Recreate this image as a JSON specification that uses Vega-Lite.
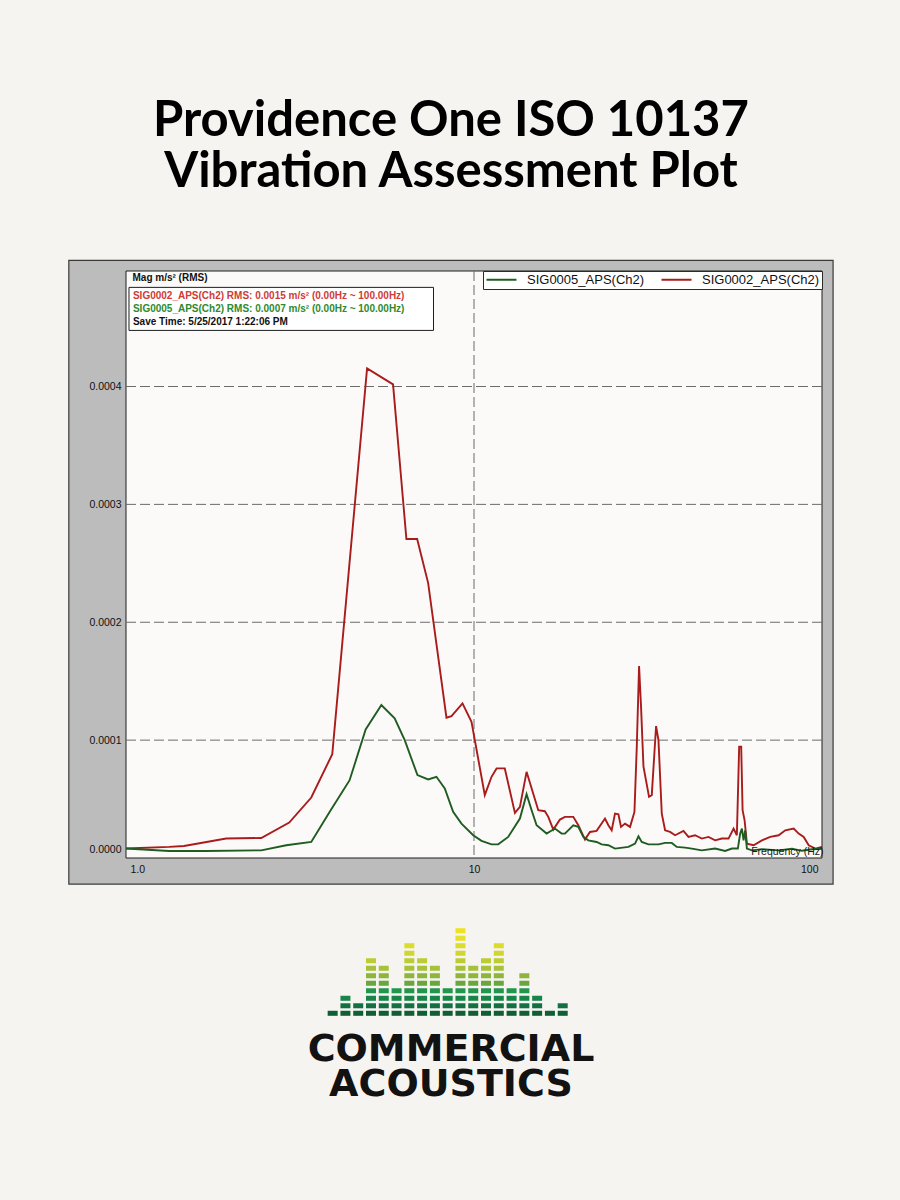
{
  "$schema": "https://vega.github.io/schema/vega-lite/v6.json",
  "background": "#f6f4f1",
  "padding": {"top": 96, "left": 68, "right": 68, "bottom": 100},
  "title": {
    "text": ["Providence One ISO 10137", "Vibration Assessment Plot"],
    "anchor": "middle",
    "font": "Lato",
    "fontSize": 49,
    "fontWeight": "bold",
    "lineHeight": 51,
    "color": "#000000",
    "offset": 63
  },
  "config": {"view": {"stroke": null}, "font": "Liberation Sans"},
  "spacing": 42,
  "resolve": {"scale": {"color": "independent"}, "legend": {"color": "independent"}},
  "datasets": {
    "curves": [
      {"freq": 1.0, "mag": 0.0000080, "signal": "SIG0002_APS(Ch2)"},
      {"freq": 1.33, "mag": 0.0000094, "signal": "SIG0002_APS(Ch2)"},
      {"freq": 1.468, "mag": 0.0000102, "signal": "SIG0002_APS(Ch2)"},
      {"freq": 1.94, "mag": 0.0000165, "signal": "SIG0002_APS(Ch2)"},
      {"freq": 2.447, "mag": 0.0000170, "signal": "SIG0002_APS(Ch2)"},
      {"freq": 2.945, "mag": 0.0000301, "signal": "SIG0002_APS(Ch2)"},
      {"freq": 3.407, "mag": 0.0000513, "signal": "SIG0002_APS(Ch2)"},
      {"freq": 3.915, "mag": 0.0000881, "signal": "SIG0002_APS(Ch2)"},
      {"freq": 4.929, "mag": 0.0004154, "signal": "SIG0002_APS(Ch2)"},
      {"freq": 5.853, "mag": 0.0004018, "signal": "SIG0002_APS(Ch2)"},
      {"freq": 6.394, "mag": 0.0002706, "signal": "SIG0002_APS(Ch2)"},
      {"freq": 6.865, "mag": 0.0002706, "signal": "SIG0002_APS(Ch2)"},
      {"freq": 7.384, "mag": 0.0002332, "signal": "SIG0002_APS(Ch2)"},
      {"freq": 8.334, "mag": 0.0001190, "signal": "SIG0002_APS(Ch2)"},
      {"freq": 8.615, "mag": 0.0001204, "signal": "SIG0002_APS(Ch2)"},
      {"freq": 9.267, "mag": 0.0001312, "signal": "SIG0002_APS(Ch2)"},
      {"freq": 9.836, "mag": 0.0001156, "signal": "SIG0002_APS(Ch2)"},
      {"freq": 10.74, "mag": 0.0000533, "signal": "SIG0002_APS(Ch2)"},
      {"freq": 11.23, "mag": 0.0000689, "signal": "SIG0002_APS(Ch2)"},
      {"freq": 11.61, "mag": 0.0000760, "signal": "SIG0002_APS(Ch2)"},
      {"freq": 12.26, "mag": 0.0000760, "signal": "SIG0002_APS(Ch2)"},
      {"freq": 13.11, "mag": 0.0000383, "signal": "SIG0002_APS(Ch2)"},
      {"freq": 13.55, "mag": 0.0000434, "signal": "SIG0002_APS(Ch2)"},
      {"freq": 14.16, "mag": 0.0000731, "signal": "SIG0002_APS(Ch2)"},
      {"freq": 15.30, "mag": 0.0000405, "signal": "SIG0002_APS(Ch2)"},
      {"freq": 15.98, "mag": 0.0000397, "signal": "SIG0002_APS(Ch2)"},
      {"freq": 16.35, "mag": 0.0000349, "signal": "SIG0002_APS(Ch2)"},
      {"freq": 16.90, "mag": 0.0000241, "signal": "SIG0002_APS(Ch2)"},
      {"freq": 17.66, "mag": 0.0000326, "signal": "SIG0002_APS(Ch2)"},
      {"freq": 18.25, "mag": 0.0000349, "signal": "SIG0002_APS(Ch2)"},
      {"freq": 19.29, "mag": 0.0000349, "signal": "SIG0002_APS(Ch2)"},
      {"freq": 19.94, "mag": 0.0000278, "signal": "SIG0002_APS(Ch2)"},
      {"freq": 20.84, "mag": 0.0000156, "signal": "SIG0002_APS(Ch2)"},
      {"freq": 21.54, "mag": 0.0000221, "signal": "SIG0002_APS(Ch2)"},
      {"freq": 22.51, "mag": 0.0000230, "signal": "SIG0002_APS(Ch2)"},
      {"freq": 23.79, "mag": 0.0000335, "signal": "SIG0002_APS(Ch2)"},
      {"freq": 24.33, "mag": 0.0000278, "signal": "SIG0002_APS(Ch2)"},
      {"freq": 24.87, "mag": 0.0000235, "signal": "SIG0002_APS(Ch2)"},
      {"freq": 25.42, "mag": 0.0000377, "signal": "SIG0002_APS(Ch2)"},
      {"freq": 26.00, "mag": 0.0000371, "signal": "SIG0002_APS(Ch2)"},
      {"freq": 26.45, "mag": 0.0000264, "signal": "SIG0002_APS(Ch2)"},
      {"freq": 27.16, "mag": 0.0000292, "signal": "SIG0002_APS(Ch2)"},
      {"freq": 28.08, "mag": 0.0000264, "signal": "SIG0002_APS(Ch2)"},
      {"freq": 28.91, "mag": 0.0000391, "signal": "SIG0002_APS(Ch2)"},
      {"freq": 29.36, "mag": 0.0000944, "signal": "SIG0002_APS(Ch2)"},
      {"freq": 29.81, "mag": 0.0001629, "signal": "SIG0002_APS(Ch2)"},
      {"freq": 30.20, "mag": 0.0001284, "signal": "SIG0002_APS(Ch2)"},
      {"freq": 30.69, "mag": 0.0000774, "signal": "SIG0002_APS(Ch2)"},
      {"freq": 31.84, "mag": 0.0000519, "signal": "SIG0002_APS(Ch2)"},
      {"freq": 32.42, "mag": 0.0000533, "signal": "SIG0002_APS(Ch2)"},
      {"freq": 33.36, "mag": 0.0001119, "signal": "SIG0002_APS(Ch2)"},
      {"freq": 33.89, "mag": 0.0001000, "signal": "SIG0002_APS(Ch2)"},
      {"freq": 34.64, "mag": 0.0000377, "signal": "SIG0002_APS(Ch2)"},
      {"freq": 35.41, "mag": 0.0000235, "signal": "SIG0002_APS(Ch2)"},
      {"freq": 36.60, "mag": 0.0000221, "signal": "SIG0002_APS(Ch2)"},
      {"freq": 37.83, "mag": 0.0000193, "signal": "SIG0002_APS(Ch2)"},
      {"freq": 39.99, "mag": 0.0000230, "signal": "SIG0002_APS(Ch2)"},
      {"freq": 41.34, "mag": 0.0000179, "signal": "SIG0002_APS(Ch2)"},
      {"freq": 43.18, "mag": 0.0000193, "signal": "SIG0002_APS(Ch2)"},
      {"freq": 45.14, "mag": 0.0000165, "signal": "SIG0002_APS(Ch2)"},
      {"freq": 47.19, "mag": 0.0000179, "signal": "SIG0002_APS(Ch2)"},
      {"freq": 49.31, "mag": 0.0000150, "signal": "SIG0002_APS(Ch2)"},
      {"freq": 51.54, "mag": 0.0000165, "signal": "SIG0002_APS(Ch2)"},
      {"freq": 53.88, "mag": 0.0000165, "signal": "SIG0002_APS(Ch2)"},
      {"freq": 55.70, "mag": 0.0000250, "signal": "SIG0002_APS(Ch2)"},
      {"freq": 56.93, "mag": 0.0000193, "signal": "SIG0002_APS(Ch2)"},
      {"freq": 57.81, "mag": 0.0000944, "signal": "SIG0002_APS(Ch2)"},
      {"freq": 58.59, "mag": 0.0000944, "signal": "SIG0002_APS(Ch2)"},
      {"freq": 59.13, "mag": 0.0000405, "signal": "SIG0002_APS(Ch2)"},
      {"freq": 59.92, "mag": 0.0000320, "signal": "SIG0002_APS(Ch2)"},
      {"freq": 60.84, "mag": 0.0000122, "signal": "SIG0002_APS(Ch2)"},
      {"freq": 63.62, "mag": 0.0000108, "signal": "SIG0002_APS(Ch2)"},
      {"freq": 67.20, "mag": 0.0000150, "signal": "SIG0002_APS(Ch2)"},
      {"freq": 71.00, "mag": 0.0000179, "signal": "SIG0002_APS(Ch2)"},
      {"freq": 75.07, "mag": 0.0000193, "signal": "SIG0002_APS(Ch2)"},
      {"freq": 78.43, "mag": 0.0000235, "signal": "SIG0002_APS(Ch2)"},
      {"freq": 82.93, "mag": 0.0000250, "signal": "SIG0002_APS(Ch2)"},
      {"freq": 85.70, "mag": 0.0000207, "signal": "SIG0002_APS(Ch2)"},
      {"freq": 88.59, "mag": 0.0000179, "signal": "SIG0002_APS(Ch2)"},
      {"freq": 91.58, "mag": 0.0000108, "signal": "SIG0002_APS(Ch2)"},
      {"freq": 95.65, "mag": 0.0000080, "signal": "SIG0002_APS(Ch2)"},
      {"freq": 100.0, "mag": 0.0000094, "signal": "SIG0002_APS(Ch2)"},

      {"freq": 1.0, "mag": 0.0000080, "signal": "SIG0005_APS(Ch2)"},
      {"freq": 1.33, "mag": 0.0000060, "signal": "SIG0005_APS(Ch2)"},
      {"freq": 1.699, "mag": 0.0000060, "signal": "SIG0005_APS(Ch2)"},
      {"freq": 2.447, "mag": 0.0000065, "signal": "SIG0005_APS(Ch2)"},
      {"freq": 2.887, "mag": 0.0000108, "signal": "SIG0005_APS(Ch2)"},
      {"freq": 3.407, "mag": 0.0000136, "signal": "SIG0005_APS(Ch2)"},
      {"freq": 3.846, "mag": 0.0000391, "signal": "SIG0005_APS(Ch2)"},
      {"freq": 4.391, "mag": 0.0000660, "signal": "SIG0005_APS(Ch2)"},
      {"freq": 4.883, "mag": 0.0001091, "signal": "SIG0005_APS(Ch2)"},
      {"freq": 5.418, "mag": 0.0001298, "signal": "SIG0005_APS(Ch2)"},
      {"freq": 5.916, "mag": 0.0001185, "signal": "SIG0005_APS(Ch2)"},
      {"freq": 6.323, "mag": 0.0001000, "signal": "SIG0005_APS(Ch2)"},
      {"freq": 6.879, "mag": 0.0000703, "signal": "SIG0005_APS(Ch2)"},
      {"freq": 7.384, "mag": 0.0000666, "signal": "SIG0005_APS(Ch2)"},
      {"freq": 7.799, "mag": 0.0000689, "signal": "SIG0005_APS(Ch2)"},
      {"freq": 8.241, "mag": 0.0000590, "signal": "SIG0005_APS(Ch2)"},
      {"freq": 8.711, "mag": 0.0000391, "signal": "SIG0005_APS(Ch2)"},
      {"freq": 9.205, "mag": 0.0000292, "signal": "SIG0005_APS(Ch2)"},
      {"freq": 9.947, "mag": 0.0000193, "signal": "SIG0005_APS(Ch2)"},
      {"freq": 10.51, "mag": 0.0000145, "signal": "SIG0005_APS(Ch2)"},
      {"freq": 11.23, "mag": 0.0000116, "signal": "SIG0005_APS(Ch2)"},
      {"freq": 11.74, "mag": 0.0000116, "signal": "SIG0005_APS(Ch2)"},
      {"freq": 12.54, "mag": 0.0000179, "signal": "SIG0005_APS(Ch2)"},
      {"freq": 13.55, "mag": 0.0000335, "signal": "SIG0005_APS(Ch2)"},
      {"freq": 14.16, "mag": 0.0000541, "signal": "SIG0005_APS(Ch2)"},
      {"freq": 14.64, "mag": 0.0000405, "signal": "SIG0005_APS(Ch2)"},
      {"freq": 15.13, "mag": 0.0000278, "signal": "SIG0005_APS(Ch2)"},
      {"freq": 16.17, "mag": 0.0000207, "signal": "SIG0005_APS(Ch2)"},
      {"freq": 17.08, "mag": 0.0000250, "signal": "SIG0005_APS(Ch2)"},
      {"freq": 17.86, "mag": 0.0000207, "signal": "SIG0005_APS(Ch2)"},
      {"freq": 18.25, "mag": 0.0000207, "signal": "SIG0005_APS(Ch2)"},
      {"freq": 19.29, "mag": 0.0000278, "signal": "SIG0005_APS(Ch2)"},
      {"freq": 19.94, "mag": 0.0000264, "signal": "SIG0005_APS(Ch2)"},
      {"freq": 20.62, "mag": 0.0000179, "signal": "SIG0005_APS(Ch2)"},
      {"freq": 21.31, "mag": 0.0000150, "signal": "SIG0005_APS(Ch2)"},
      {"freq": 22.51, "mag": 0.0000136, "signal": "SIG0005_APS(Ch2)"},
      {"freq": 23.27, "mag": 0.0000116, "signal": "SIG0005_APS(Ch2)"},
      {"freq": 24.33, "mag": 0.0000108, "signal": "SIG0005_APS(Ch2)"},
      {"freq": 25.42, "mag": 0.0000080, "signal": "SIG0005_APS(Ch2)"},
      {"freq": 27.78, "mag": 0.0000094, "signal": "SIG0005_APS(Ch2)"},
      {"freq": 29.03, "mag": 0.0000122, "signal": "SIG0005_APS(Ch2)"},
      {"freq": 29.69, "mag": 0.0000184, "signal": "SIG0005_APS(Ch2)"},
      {"freq": 30.34, "mag": 0.0000136, "signal": "SIG0005_APS(Ch2)"},
      {"freq": 31.72, "mag": 0.0000116, "signal": "SIG0005_APS(Ch2)"},
      {"freq": 33.89, "mag": 0.0000116, "signal": "SIG0005_APS(Ch2)"},
      {"freq": 35.41, "mag": 0.0000128, "signal": "SIG0005_APS(Ch2)"},
      {"freq": 37.01, "mag": 0.0000128, "signal": "SIG0005_APS(Ch2)"},
      {"freq": 38.25, "mag": 0.0000094, "signal": "SIG0005_APS(Ch2)"},
      {"freq": 40.42, "mag": 0.0000088, "signal": "SIG0005_APS(Ch2)"},
      {"freq": 42.26, "mag": 0.0000080, "signal": "SIG0005_APS(Ch2)"},
      {"freq": 45.14, "mag": 0.0000065, "signal": "SIG0005_APS(Ch2)"},
      {"freq": 49.31, "mag": 0.0000080, "signal": "SIG0005_APS(Ch2)"},
      {"freq": 52.68, "mag": 0.0000060, "signal": "SIG0005_APS(Ch2)"},
      {"freq": 55.08, "mag": 0.0000080, "signal": "SIG0005_APS(Ch2)"},
      {"freq": 57.31, "mag": 0.0000080, "signal": "SIG0005_APS(Ch2)"},
      {"freq": 58.19, "mag": 0.0000207, "signal": "SIG0005_APS(Ch2)"},
      {"freq": 58.86, "mag": 0.0000250, "signal": "SIG0005_APS(Ch2)"},
      {"freq": 59.52, "mag": 0.0000150, "signal": "SIG0005_APS(Ch2)"},
      {"freq": 60.15, "mag": 0.0000235, "signal": "SIG0005_APS(Ch2)"},
      {"freq": 60.84, "mag": 0.0000080, "signal": "SIG0005_APS(Ch2)"},
      {"freq": 62.91, "mag": 0.0000065, "signal": "SIG0005_APS(Ch2)"},
      {"freq": 67.20, "mag": 0.0000074, "signal": "SIG0005_APS(Ch2)"},
      {"freq": 75.07, "mag": 0.0000065, "signal": "SIG0005_APS(Ch2)"},
      {"freq": 82.00, "mag": 0.0000078, "signal": "SIG0005_APS(Ch2)"},
      {"freq": 87.60, "mag": 0.0000061, "signal": "SIG0005_APS(Ch2)"},
      {"freq": 93.58, "mag": 0.0000074, "signal": "SIG0005_APS(Ch2)"},
      {"freq": 100.0, "mag": 0.0000078, "signal": "SIG0005_APS(Ch2)"}
    ],
    "gridLevels": [
      {"level": 0.0001}, {"level": 0.0002}, {"level": 0.0003}, {"level": 0.0004}
    ],
    "logo": [
      {"column": 1, "levels": [1]},
      {"column": 2, "levels": [1, 2, 3]},
      {"column": 3, "levels": [1, 2]},
      {"column": 4, "levels": [1, 2, 3, 4, 5, 6, 7, 8]},
      {"column": 5, "levels": [1, 2, 3, 4, 5, 6, 7]},
      {"column": 6, "levels": [1, 2, 3, 4]},
      {"column": 7, "levels": [1, 2, 3, 4, 5, 6, 7, 8, 9, 10]},
      {"column": 8, "levels": [1, 2, 3, 4, 5, 6, 7, 8]},
      {"column": 9, "levels": [1, 2, 3, 4, 5, 6, 7]},
      {"column": 10, "levels": [1, 2, 3, 4]},
      {"column": 11, "levels": [1, 2, 3, 4, 5, 6, 7, 8, 9, 10, 11, 12]},
      {"column": 12, "levels": [1, 2, 3, 4, 5, 6, 7]},
      {"column": 13, "levels": [1, 2, 3, 4, 5, 6, 7, 8]},
      {"column": 14, "levels": [1, 2, 3, 4, 5, 6, 7, 8, 9, 10]},
      {"column": 15, "levels": [1, 2, 3, 4]},
      {"column": 16, "levels": [1, 2, 3, 4, 5, 6]},
      {"column": 17, "levels": [1, 2, 3]},
      {"column": 18, "levels": [1]},
      {"column": 19, "levels": [1, 2]}
    ]
  },
  "vconcat": [
    {
      "width": 696,
      "height": 587,
      "layer": [
        {
          "data": {"values": [{}]},
          "mark": {"type": "rect", "fill": "#bcbcbc", "stroke": "#3a3a3a", "strokeWidth": 1.2, "clip": false},
          "encoding": {
            "x": {"datum": 0.685, "type": "quantitative", "scale": {"type": "log", "domain": [1, 100], "nice": false}},
            "x2": {"datum": 107.6},
            "y": {"datum": -0.0000221, "type": "quantitative", "scale": {"domain": [0, 0.000498], "nice": false, "zero": false}},
            "y2": {"datum": 0.000507}
          }
        },
        {
          "data": {"values": [{}]},
          "mark": {"type": "rect", "fill": "#fbfaf8", "stroke": "#1e1e1e", "strokeWidth": 1},
          "encoding": {
            "x": {"datum": 1, "type": "quantitative", "scale": {"type": "log", "domain": [1, 100], "nice": false}},
            "x2": {"datum": 100},
            "y": {"datum": 0, "type": "quantitative", "scale": {"domain": [0, 0.000498], "nice": false, "zero": false}},
            "y2": {"datum": 0.000498}
          }
        },
        {
          "data": {"name": "gridLevels"},
          "mark": {"type": "rule", "stroke": "#6b6b6b", "strokeWidth": 1, "strokeDash": [10, 4]},
          "encoding": {
            "y": {"field": "level", "type": "quantitative", "scale": {"domain": [0, 0.000498], "nice": false, "zero": false}}
          }
        },
        {
          "data": {"values": [{}]},
          "mark": {"type": "rule", "stroke": "#6b6b6b", "strokeWidth": 1, "strokeDash": [10, 4]},
          "encoding": {
            "x": {"datum": 10, "type": "quantitative", "scale": {"type": "log", "domain": [1, 100], "nice": false}}
          }
        },
        {
          "data": {"name": "curves"},
          "mark": {"type": "line", "strokeWidth": 1.9, "clip": true},
          "encoding": {
            "x": {
              "field": "freq",
              "type": "quantitative",
              "scale": {"type": "log", "domain": [1, 100], "nice": false},
              "axis": {
                "values": [1, 10, 100],
                "labelExpr": "datum.value == 1 ? '1.0' : format(datum.value, 'd')",
                "labelFont": "Liberation Sans",
                "labelFontSize": 10.5,
                "labelColor": "#111111",
                "labelPadding": 6,
                "labelFlush": true,
                "labelFlushOffset": -4,
                "ticks": false,
                "domain": false,
                "grid": false,
                "title": "Frequency (Hz)",
                "titleX": 697,
                "titleY": -2,
                "titleAlign": "right",
                "titleBaseline": "bottom",
                "titleFont": "Liberation Sans",
                "titleFontSize": 10.5,
                "titleFontWeight": "normal",
                "titleColor": "#1a1a1a",
                "zindex": 1
              }
            },
            "y": {
              "field": "mag",
              "type": "quantitative",
              "scale": {"domain": [0, 0.000498], "nice": false, "zero": false},
              "axis": {
                "values": [0, 0.0001, 0.0002, 0.0003, 0.0004],
                "format": ".4f",
                "labelFont": "Liberation Sans",
                "labelFontSize": 10.5,
                "labelColor": "#111111",
                "labelPadding": 5,
                "labelFlush": true,
                "labelFlushOffset": -4,
                "ticks": false,
                "domain": false,
                "grid": false,
                "title": "Mag m/s² (RMS)",
                "titleAngle": 0,
                "titleX": 6,
                "titleY": 6,
                "titleAlign": "left",
                "titleBaseline": "middle",
                "titleFont": "Liberation Sans",
                "titleFontSize": 10,
                "titleFontWeight": "bold",
                "titleColor": "#111111",
                "zindex": 1
              }
            },
            "color": {
              "field": "signal",
              "type": "nominal",
              "scale": {"domain": ["SIG0005_APS(Ch2)", "SIG0002_APS(Ch2)"], "range": ["#1f5c22", "#a81c1c"]},
              "legend": {
                "orient": "top-right",
                "offset": 0,
                "direction": "horizontal",
                "title": null,
                "fillColor": "#ffffff",
                "strokeColor": "#2a2a2a",
                "padding": 2,
                "symbolType": "M-1,0H5",
                "symbolSize": 100,
                "symbolStrokeWidth": 2,
                "labelOffset": 29,
                "labelFont": "Liberation Sans",
                "labelFontSize": 13,
                "labelColor": "#111111",
                "columnPadding": 12,
                "labelLimit": 200
              }
            }
          }
        },
        {
          "data": {"values": [{}]},
          "mark": {"type": "rect", "fill": "#ffffff", "stroke": "#1e1e1e", "strokeWidth": 1},
          "encoding": {
            "x": {"datum": 1.02, "type": "quantitative", "scale": {"type": "log", "domain": [1, 100], "nice": false}},
            "x2": {"datum": 7.65},
            "y": {"datum": 0.0004841, "type": "quantitative", "scale": {"domain": [0, 0.000498], "nice": false, "zero": false}},
            "y2": {"datum": 0.0004476}
          }
        },
        {
          "data": {"values": [{}]},
          "mark": {"type": "text", "align": "left", "baseline": "middle", "font": "Liberation Sans", "fontSize": 10, "fontWeight": "bold", "fill": "#cf3b35"},
          "encoding": {
            "x": {"datum": 1.047, "type": "quantitative", "scale": {"type": "log", "domain": [1, 100], "nice": false}},
            "y": {"datum": 0.0004765, "type": "quantitative", "scale": {"domain": [0, 0.000498], "nice": false, "zero": false}},
            "text": {"value": "SIG0002_APS(Ch2) RMS: 0.0015 m/s² (0.00Hz ~ 100.00Hz)"}
          }
        },
        {
          "data": {"values": [{}]},
          "mark": {"type": "text", "align": "left", "baseline": "middle", "font": "Liberation Sans", "fontSize": 10, "fontWeight": "bold", "fill": "#2e8a2e"},
          "encoding": {
            "x": {"datum": 1.047, "type": "quantitative", "scale": {"type": "log", "domain": [1, 100], "nice": false}},
            "y": {"datum": 0.0004654, "type": "quantitative", "scale": {"domain": [0, 0.000498], "nice": false, "zero": false}},
            "text": {"value": "SIG0005_APS(Ch2) RMS: 0.0007 m/s² (0.00Hz ~ 100.00Hz)"}
          }
        },
        {
          "data": {"values": [{}]},
          "mark": {"type": "text", "align": "left", "baseline": "middle", "font": "Liberation Sans", "fontSize": 10, "fontWeight": "bold", "fill": "#111111"},
          "encoding": {
            "x": {"datum": 1.047, "type": "quantitative", "scale": {"type": "log", "domain": [1, 100], "nice": false}},
            "y": {"datum": 0.0004544, "type": "quantitative", "scale": {"domain": [0, 0.000498], "nice": false, "zero": false}},
            "text": {"value": "Save Time: 5/25/2017 1:22:06 PM"}
          }
        }
      ]
    },
    {
      "width": 650,
      "height": 90,
      "data": {"name": "logo"},
      "transform": [{"flatten": ["levels"], "as": ["level"]}],
      "mark": {"type": "tick", "thickness": 10, "bandSize": 5},
      "encoding": {
        "x": {"field": "column", "type": "quantitative", "axis": null, "scale": {"domain": [-15.17, 35.69], "nice": false, "zero": false}},
        "y": {"field": "level", "type": "ordinal", "axis": null, "scale": {"domain": [12, 11, 10, 9, 8, 7, 6, 5, 4, 3, 2, 1], "paddingInner": 0.33, "paddingOuter": 0.16}},
        "color": {
          "field": "level",
          "type": "ordinal",
          "legend": null,
          "scale": {
            "domain": [1, 2, 3, 4, 5, 6, 7, 8, 9, 10, 11, 12],
            "range": ["#0f5e35", "#137042", "#17854a", "#22964c", "#6aa63e", "#8fb63c", "#a7c23a", "#bccd34", "#cfd62f", "#dcdc2a", "#e6e026", "#ede322"]
          }
        },
        "opacity": {"value": 1}
      },
      "title": {
        "text": ["COMMERCIAL", "ACOUSTICS"],
        "orient": "bottom",
        "anchor": "middle",
        "frame": "group",
        "font": "DejaVu Sans",
        "fontSize": 38,
        "fontWeight": "bold",
        "lineHeight": 35,
        "color": "#121212",
        "offset": 14
      }
    }
  ]
}
